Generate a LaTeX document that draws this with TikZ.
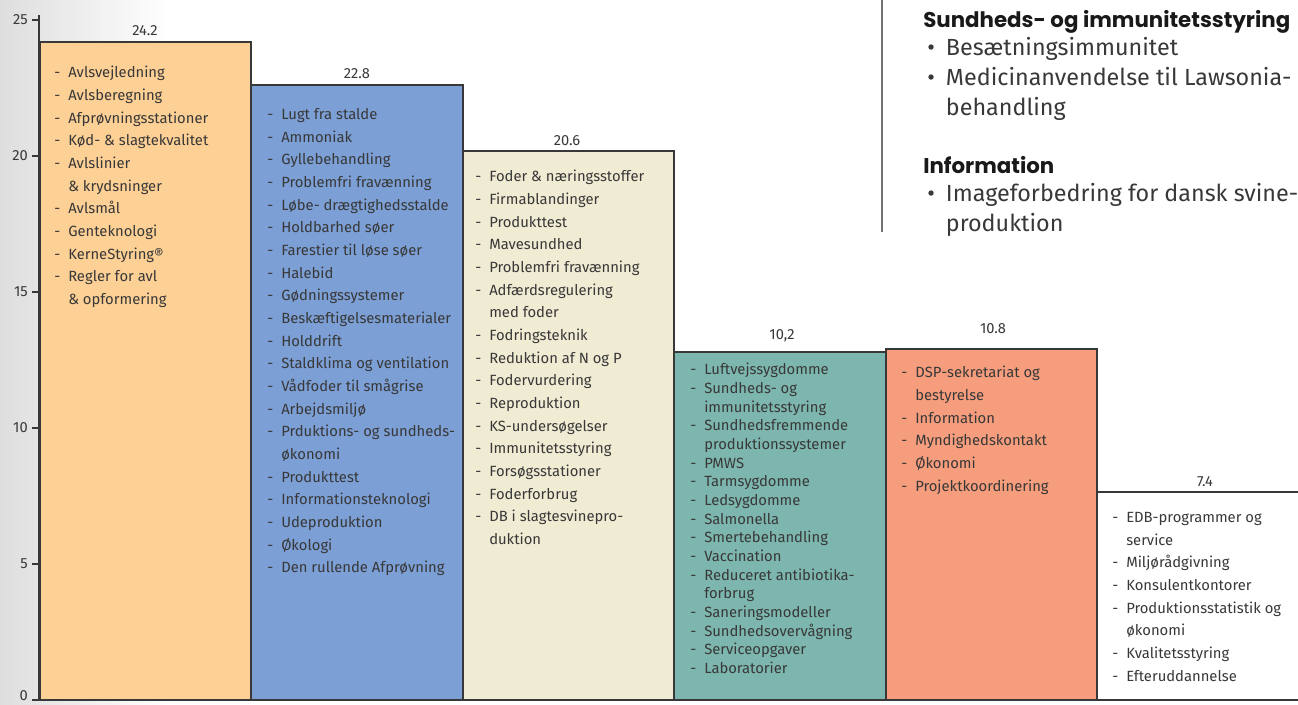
\documentclass[tikz,border=0pt]{standalone}
\usepackage{fontspec}
\setmainfont{Fira Sans}
\newfontfamily\headfont{Poppins}
\usetikzlibrary{positioning}

\definecolor{avlcol}{HTML}{FDD095}
\definecolor{staldcol}{HTML}{7C9FD5}
\definecolor{fodercol}{HTML}{F0EBD3}
\definecolor{sundcol}{HTML}{7DB6AE}
\definecolor{ledcol}{HTML}{F59D7C}
\definecolor{inkcol}{HTML}{383838}

\newcommand{\itm}[1]{\makebox[10.5pt][l]{-}#1}
\newcommand{\cnt}[1]{\hspace*{10.5pt}#1}
\newcommand{\bul}[1]{\makebox[14pt][l]{\textbullet}#1}
\newcommand{\bcnt}[1]{\hspace*{14pt}#1}

\tikzstyle{bar} = [draw=inkcol, line width=1pt]
\tikzstyle{axis} = [draw=inkcol, line width=0.8pt]
\tikzstyle{tick} = [anchor=east, inner sep=0pt, text=inkcol, font=\fontsize{11}{12}\selectfont]
\tikzstyle{value} = [inner sep=0pt, text=inkcol, font=\fontsize{11}{12}\selectfont]
\tikzstyle{list} = [anchor=north west, align=left, inner sep=0pt, text=inkcol, font=\fontsize{11.1}{17}\selectfont]
\tikzstyle{tightlist} = [list, font=\fontsize{11.1}{14}\selectfont]
\tikzstyle{head} = [anchor=base west, inner sep=0pt, text=black!90, font=\fontsize{16}{20}\selectfont\headfont\bfseries]
\tikzstyle{note} = [anchor=north west, align=left, inner sep=0pt, text=inkcol, font=\fontsize{17.5}{22.5}\selectfont]

\begin{document}
\begin{tikzpicture}[x=0.75pt, y=-0.75pt]
\useasboundingbox (0,0) rectangle (1298,704);
\shade [left color=black!13, right color=white] (0,0) rectangle (170,704);

% bars
\draw [bar, fill=avlcol] (40,42) rectangle (251,700);
\draw [bar, fill=staldcol] (251,85) rectangle (463,700);
\draw [bar, fill=fodercol] (463,151) rectangle (674,700);
\draw [bar, fill=sundcol] (674,352) rectangle (886,700);
\draw [bar, fill=ledcol] (886,349) rectangle (1097,700);
\draw [bar] (1097,700) -- (1097,492) -- (1298,492);

% axis with ticks
\draw [axis] (39,15) -- (39,700);
\draw [axis] (32,700) -- (1298,700);
\foreach \v in {0,5,...,25} {
  \draw [axis] (32,{700-\v*27.2}) -- (39,{700-\v*27.2});
  \node (tick\v) [tick] at (28,{min(700-\v*27.2,696)}) {\v};
}

% values
\node (val1) [value] at (145,31) {24.2};
\node (val2) [value] at (357,74) {22.8};
\node (val3) [value] at (567,141) {20.6};
\node (val4) [value] at (782,336) {10,2};
\node (val5) [value] at (993,329) {10.8};
\node (val6) [value] at (1205,482) {7.4};

% lists
\node (avl) [list] at (54,66) {\itm{Avlsvejledning}\\ \itm{Avlsberegning}\\
  \itm{Afprøvningsstationer}\\ \itm{Kød- \& slagtekvalitet}\\ \itm{Avlslinier}\\
  \cnt{\& krydsninger}\\ \itm{Avlsmål}\\ \itm{Genteknologi}\\ \itm{KerneStyring®}\\
  \itm{Regler for avl}\\ \cnt{\& opformering}};
\node (stald) [list] at (267,108) {\itm{Lugt fra stalde}\\ \itm{Ammoniak}\\
  \itm{Gyllebehandling}\\ \itm{Problemfri fravænning}\\ \itm{Løbe- drægtighedsstalde}\\
  \itm{Holdbarhed søer}\\ \itm{Farestier til løse søer}\\ \itm{Halebid}\\
  \itm{Gødningssystemer}\\ \itm{Beskæftigelsesmaterialer}\\ \itm{Holddrift}\\
  \itm{Staldklima og ventilation}\\ \itm{Vådfoder til smågrise}\\ \itm{Arbejdsmiljø}\\
  \itm{Prduktions- og sundheds-}\\ \cnt{økonomi}\\ \itm{Produkttest}\\
  \itm{Informationsteknologi}\\ \itm{Udeproduktion}\\ \itm{Økologi}\\
  \itm{Den rullende Afprøvning}};
\node (foder) [list] at (475,170) {\itm{Foder \& næringsstoffer}\\ \itm{Firmablandinger}\\
  \itm{Produkttest}\\ \itm{Mavesundhed}\\ \itm{Problemfri fravænning}\\
  \itm{Adfærdsregulering}\\ \cnt{med foder}\\ \itm{Fodringsteknik}\\
  \itm{Reduktion af N og P}\\ \itm{Fodervurdering}\\ \itm{Reproduktion}\\
  \itm{KS-undersøgelser}\\ \itm{Immunitetsstyring}\\ \itm{Forsøgsstationer}\\
  \itm{Foderforbrug}\\ \itm{DB i slagtesvinepro-}\\ \cnt{duktion}};
\node (sund) [tightlist] at (690,363) {\itm{Luftvejssygdomme}\\ \itm{Sundheds- og}\\
  \cnt{immunitetsstyring}\\ \itm{Sundhedsfremmende}\\ \cnt{produktionssystemer}\\
  \itm{PMWS}\\ \itm{Tarmsygdomme}\\ \itm{Ledsygdomme}\\ \itm{Salmonella}\\
  \itm{Smertebehandling}\\ \itm{Vaccination}\\ \itm{Reduceret antibiotika-}\\
  \cnt{forbrug}\\ \itm{Saneringsmodeller}\\ \itm{Sundhedsovervågning}\\
  \itm{Serviceopgaver}\\ \itm{Laboratorier}};
\node (ledelse) [list] at (901,366) {\itm{DSP-sekretariat og}\\ \cnt{bestyrelse}\\
  \itm{Information}\\ \itm{Myndighedskontakt}\\ \itm{Økonomi}\\
  \itm{Projektkoordinering}};
\node (service) [list] at (1112,512) {\itm{EDB-programmer og}\\ \cnt{service}\\
  \itm{Miljørådgivning}\\ \itm{Konsulentkontorer}\\ \itm{Produktionsstatistik og}\\
  \cnt{økonomi}\\ \itm{Kvalitetsstyring}\\ \itm{Efteruddannelse}};

% notes at top right
\draw [draw=black!55, line width=0.8pt] (882,0) -- (882,232);
\node (helsehead) [head] at (923,27) {Sundheds- og immunitetsstyring};
\node (helse) [note] at (927,37) {\bul{Besætningsimmunitet}\\
  \bul{Medicinanvendelse til Lawsonia-}\\ \bcnt{behandling}};
\node (infohead) [head] at (923,173) {Information};
\node (info) [note] at (927,183) {\bul{Imageforbedring for dansk svine-}\\
  \bcnt{produktion}};
\end{tikzpicture}
\end{document}
